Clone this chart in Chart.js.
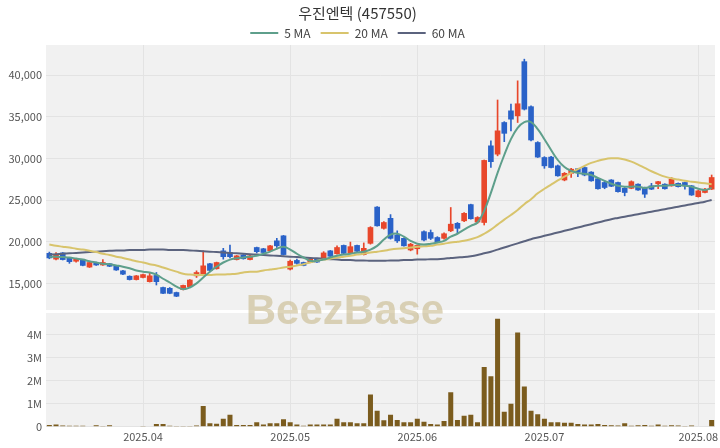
<!DOCTYPE html>
<html><head><meta charset="utf-8">
<script src="https://cdn.jsdelivr.net/npm/chart.js@4.4.1/dist/chart.umd.min.js"></script>
<style>
html,body{margin:0;padding:0;background:#fff;}
#wrap{position:relative;width:720px;height:448px;overflow:hidden;}
#c1{position:absolute;left:0;top:0;}
#c2{position:absolute;left:0;top:313px;}
#wm{position:absolute;left:195px;top:286px;width:300px;text-align:center;font:bold 42px "Liberation Sans",Arial,sans-serif;line-height:48px;color:rgba(200,185,140,0.6);pointer-events:none;}
</style></head>
<body>
<div id="wrap">
<canvas id="c1" width="720" height="310"></canvas>
<canvas id="c2" width="720" height="135"></canvas>
<div id="wm">BeezBase</div>
</div>
<script>
const dates = [
'2025-03-12','2025-03-13','2025-03-14','2025-03-17','2025-03-18','2025-03-19','2025-03-20','2025-03-21','2025-03-24','2025-03-25','2025-03-26','2025-03-27','2025-03-28','2025-03-31',
'2025-04-01','2025-04-02','2025-04-03','2025-04-04','2025-04-07','2025-04-08','2025-04-09','2025-04-10','2025-04-11','2025-04-14','2025-04-15','2025-04-16','2025-04-17','2025-04-18','2025-04-21','2025-04-22','2025-04-23','2025-04-24','2025-04-25','2025-04-28','2025-04-29','2025-04-30',
'2025-05-02','2025-05-07','2025-05-08','2025-05-09','2025-05-12','2025-05-13','2025-05-14','2025-05-15','2025-05-16','2025-05-19','2025-05-20','2025-05-21','2025-05-22','2025-05-23','2025-05-26','2025-05-27','2025-05-28','2025-05-29','2025-05-30',
'2025-06-02','2025-06-04','2025-06-05','2025-06-09','2025-06-10','2025-06-11','2025-06-12','2025-06-13','2025-06-16','2025-06-17','2025-06-18','2025-06-19','2025-06-20','2025-06-23','2025-06-24','2025-06-25','2025-06-26','2025-06-27','2025-06-30',
'2025-07-01','2025-07-02','2025-07-03','2025-07-04','2025-07-07','2025-07-08','2025-07-09','2025-07-10','2025-07-11','2025-07-14','2025-07-15','2025-07-16','2025-07-17','2025-07-18','2025-07-21','2025-07-22','2025-07-23','2025-07-24','2025-07-25','2025-07-28','2025-07-29','2025-07-30','2025-07-31',
'2025-08-01','2025-08-04','2025-08-05'];

const openP = [18600,17900,18650,18000,17650,17800,16950,17500,17200,17350,17100,16500,15850,15450,15700,15200,15950,14500,14400,13900,
14250,14600,15900,16150,17350,16750,18900,18700,17850,18400,17850,19300,19150,18900,20100,20700,16700,17750,17500,17550,
17950,17950,18900,18550,19550,18650,19550,18450,19800,24150,21600,22800,20800,20400,19000,19150,21200,21100,20500,20400,
21300,22200,22500,24450,22350,22300,31500,30500,34300,35700,35100,41600,36200,31900,30100,30150,29100,27400,28200,28750,
28900,28350,27550,27100,27400,27100,26400,26400,26900,26500,26700,26950,26900,26700,27000,27100,26700,25400,25900,26300];
const highP = [18750,18700,18700,18050,17950,17850,17550,17550,17850,17400,17150,16550,15900,15950,16100,16300,16300,14550,14500,13950,
14800,15450,16500,18900,17400,17550,19200,19600,18350,18450,18350,19350,19200,19550,20400,20750,17800,17900,17550,18100,
18000,18800,18950,19500,19600,19950,19600,19850,21800,24200,22400,23250,21300,20450,19800,19600,21300,21400,20600,21050,
24100,22300,23500,24500,23000,29800,32100,37000,34400,36500,39300,41900,36300,32000,30200,30250,29200,28300,28800,28800,
29000,28400,27600,27300,27450,27150,26500,27300,26950,26550,27000,27250,26950,27700,27050,27150,26750,26200,26400,28000];
const lowP = [17950,17800,17800,17400,17550,17100,16900,17150,17150,17000,16550,16050,15400,15400,15650,15150,14800,13750,13750,13400,
14200,14550,15700,16100,16500,16700,17900,18050,17800,17900,17800,18650,18650,18850,19300,18400,16600,17300,17100,17500,
17500,17900,18200,18500,18550,18600,18800,18400,19700,21850,21500,20300,19900,19450,18900,18500,20100,20250,19950,20300,
21200,21000,22400,22700,22200,22000,28900,30300,32000,33300,34300,35800,32100,30100,28800,28850,27850,27300,27700,27800,
27900,27250,26300,26350,26600,25950,25500,26350,26150,25300,26250,26350,26300,26650,26550,26300,25550,25350,25850,26250];
const closeP = [18050,18400,17850,17600,17900,17150,17500,17200,17500,17050,16600,16100,15450,15900,16050,15900,15200,13800,13800,13450,
14750,15400,16300,17100,16550,17500,18200,18200,18300,17950,18300,18800,18700,19500,19500,18450,17650,17400,17150,17900,
17550,18650,18250,19300,18600,19400,18850,19200,21700,21900,22300,20400,20100,19500,19700,19550,20200,20400,20000,20950,
22100,21600,23400,22750,22900,29750,29600,33300,33000,34700,36550,35900,32200,30150,29100,28900,27900,28200,28700,28350,
28000,27300,26350,26500,26650,26000,25900,27200,26200,25700,26300,27200,26350,27500,26600,26700,25600,26100,26300,27700];
const ma5 = [18200,18200,18150,18100,17970,17850,17650,17500,17350,17300,17150,17000,16800,16550,16400,16300,16050,15550,15100,14600,
14300,14500,15000,15700,16400,17000,17500,17850,18000,18100,18200,18300,18550,18800,19150,19400,19050,18550,18100,17700,
17700,17850,18100,18300,18450,18550,18700,18800,19050,19500,20250,20850,20950,20600,20100,19750,19650,19750,19900,20100,
20600,20950,21450,21900,22300,23700,25850,28250,30400,32300,33650,34350,34350,33500,32300,31000,29800,28950,28500,28250,
28150,28000,27650,27300,26950,26700,26600,26600,26600,26450,26600,26700,26700,26800,26800,26700,26600,26350,26200,26450];
const ma20 = [19650,19500,19400,19300,19150,19050,18900,18750,18550,18400,18200,18050,17850,17650,17500,17300,17150,16900,16650,16400,
16150,16050,16000,16000,16000,16050,16050,16100,16150,16300,16400,16400,16550,16650,16750,16900,17000,17150,17300,17500,
17700,17850,17950,18100,18200,18300,18450,18550,18700,18800,18900,19050,19150,19200,19300,19400,19450,19500,19650,19750,
19900,20000,20100,20300,20550,20950,21450,22050,22650,23200,23800,24500,25100,25800,26350,26850,27350,27800,28250,28700,
29100,29450,29700,29900,30000,30000,29850,29600,29250,28850,28450,28100,27800,27600,27450,27300,27200,27100,27000,26900];
const ma60 = [18450,18500,18550,18600,18650,18700,18750,18800,18850,18900,18950,18950,19000,19000,19000,19050,19050,19050,19000,19000,
19000,18950,18900,18850,18800,18750,18700,18650,18600,18550,18500,18450,18400,18350,18300,18250,18200,18150,18100,18050,
18000,17950,17900,17850,17800,17800,17750,17750,17700,17700,17700,17750,17750,17800,17800,17850,17850,17900,17900,17950,
18050,18100,18150,18250,18400,18600,18800,19050,19300,19550,19800,20050,20300,20500,20700,20900,21100,21300,21500,21700,
21900,22100,22300,22500,22700,22850,23000,23150,23300,23450,23600,23750,23900,24050,24200,24350,24500,24650,24800,25000];
const volume = [80000,100000,60000,50000,50000,50000,20000,70000,40000,70000,20000,20000,20000,20000,30000,20000,120000,120000,50000,40000,
40000,40000,60000,900000,150000,130000,350000,520000,80000,80000,80000,200000,100000,150000,150000,330000,200000,100000,50000,100000,
100000,100000,100000,350000,200000,200000,150000,150000,1400000,700000,280000,520000,300000,200000,200000,350000,220000,120000,100000,250000,
1500000,300000,480000,520000,200000,2600000,2200000,4700000,650000,1000000,4100000,1750000,700000,550000,350000,200000,200000,180000,180000,120000,
100000,100000,120000,80000,70000,60000,150000,50000,70000,80000,50000,100000,50000,70000,60000,30000,60000,20000,20000,300000];
const tickLabels = ['2025.04','2025.05','2025.06','2025.07','2025.08'];
const priceTicks = [15000,20000,25000,30000,35000,40000];
const volumeTicks = [0,1000000,2000000,3000000,4000000];

const UP = '#e8472b', DOWN = '#2a62c8';
const FONT = '"Noto Sans CJK KR","Noto Sans",sans-serif';
const GRID = '#e3e3e3';
const BG = '#f1f1f1';

// first trading day index for each labelled month
const monthStart = {};
tickLabels.forEach(t => {
  const key = t.replace('.', '-');
  const idx = dates.findIndex(d => d.startsWith(key));
  if (idx >= 0) monthStart[idx] = t;
});

const candleColors = openP.map((o, i) => closeP[i] >= o ? UP : DOWN);
const bodies = openP.map((o, i) => [o, closeP[i]]);
const wicks = lowP.map((l, i) => [l, highP[i]]);

const bgPlugin = {
  id: 'bg',
  beforeDraw(chart) {
    const {ctx, chartArea: a} = chart;
    ctx.save();
    ctx.fillStyle = BG;
    ctx.fillRect(a.left, a.top, a.right - a.left, a.bottom - a.top);
    ctx.restore();
  }
};
const legendTrim = {
  id: 'legendTrim',
  afterInit(chart) {
    const lg = chart.legend;
    if (!lg) return;
    const f = lg.fit;
    lg.fit = function() { f.call(this); this.height -= 4; };
  }
};

const xGridColor = c => (c.tick && monthStart[c.tick.value] !== undefined) ? GRID : 'rgba(0,0,0,0)';
const fitY = s => { s.width = 46; s.paddingTop = 0; s.paddingBottom = 0; };

new Chart(document.getElementById('c1'), {
  type: 'bar',
  plugins: [bgPlugin, legendTrim],
  data: {
    labels: dates,
    datasets: [
      {type: 'line', label: '5 MA', data: ma5, borderColor: '#5e9f8b', backgroundColor: '#5e9f8b', borderWidth: 2, pointRadius: 0, tension: 0.4, order: 1},
      {type: 'line', label: '20 MA', data: ma20, borderColor: '#d8c46c', backgroundColor: '#d8c46c', borderWidth: 2, pointRadius: 0, tension: 0.4, order: 1},
      {type: 'line', label: '60 MA', data: ma60, borderColor: '#5b637e', backgroundColor: '#5b637e', borderWidth: 2, pointRadius: 0, tension: 0.4, order: 1},
      {label: 'body', data: bodies, backgroundColor: candleColors, barThickness: 5, grouped: false, borderSkipped: false, order: 2},
      {label: 'wick', data: wicks, backgroundColor: candleColors, barThickness: 1, grouped: false, borderSkipped: false, order: 3}
    ]
  },
  options: {
    responsive: false, animation: false, devicePixelRatio: 1,
    layout: {padding: {left: 0, right: 5, top: 0, bottom: 0}},
    plugins: {
      title: {display: true, text: '우진엔텍 (457550)', color: '#333', font: {family: FONT, size: 15, weight: 'normal'}, padding: {top: 4, bottom: -5}},
      legend: {display: true, labels: {filter: it => it.text.indexOf('MA') >= 0, usePointStyle: true, pointStyle: 'line', pointStyleWidth: 28, boxHeight: 12, color: '#444', font: {family: FONT, size: 12}, padding: 10}},
      tooltip: {enabled: false}
    },
    scales: {
      x: {offset: true, grid: {offset: false, drawTicks: false, color: xGridColor}, border: {display: false}, ticks: {display: false}},
      y: {min: 11800, max: 43600, afterFit: fitY,
          afterBuildTicks: s => { s.ticks = priceTicks.map(v => ({value: v})); },
          grid: {color: GRID, drawTicks: false}, border: {display: false},
          ticks: {padding: 4, color: '#555', font: {family: FONT, size: 11}, callback: v => Number(v).toLocaleString('en-US')}}
    }
  }
});

new Chart(document.getElementById('c2'), {
  type: 'bar',
  plugins: [bgPlugin],
  data: {
    labels: dates,
    datasets: [{label: 'Volume', data: volume, backgroundColor: '#7b5c1e', barPercentage: 0.75, categoryPercentage: 1}]
  },
  options: {
    responsive: false, animation: false, devicePixelRatio: 1,
    layout: {padding: {left: 0, right: 5, top: 0, bottom: 2}},
    plugins: {legend: {display: false}, title: {display: false}, tooltip: {enabled: false}},
    scales: {
      x: {offset: true, grid: {offset: false, drawTicks: false, color: xGridColor}, border: {display: false},
          ticks: {autoSkip: false, maxRotation: 0, padding: 3, color: '#555', font: {family: FONT, size: 11},
                  callback: (v, i) => monthStart[i] !== undefined ? monthStart[i] : ''}},
      y: {min: 0, max: 4950000, afterFit: fitY,
          afterBuildTicks: s => { s.ticks = volumeTicks.map(v => ({value: v})); },
          grid: {color: GRID, drawTicks: false}, border: {display: false},
          ticks: {padding: 4, color: '#555', font: {family: FONT, size: 11}, callback: v => v === 0 ? '0' : (v / 1000000) + 'M'}}
    }
  }
});
</script>
</body></html>
